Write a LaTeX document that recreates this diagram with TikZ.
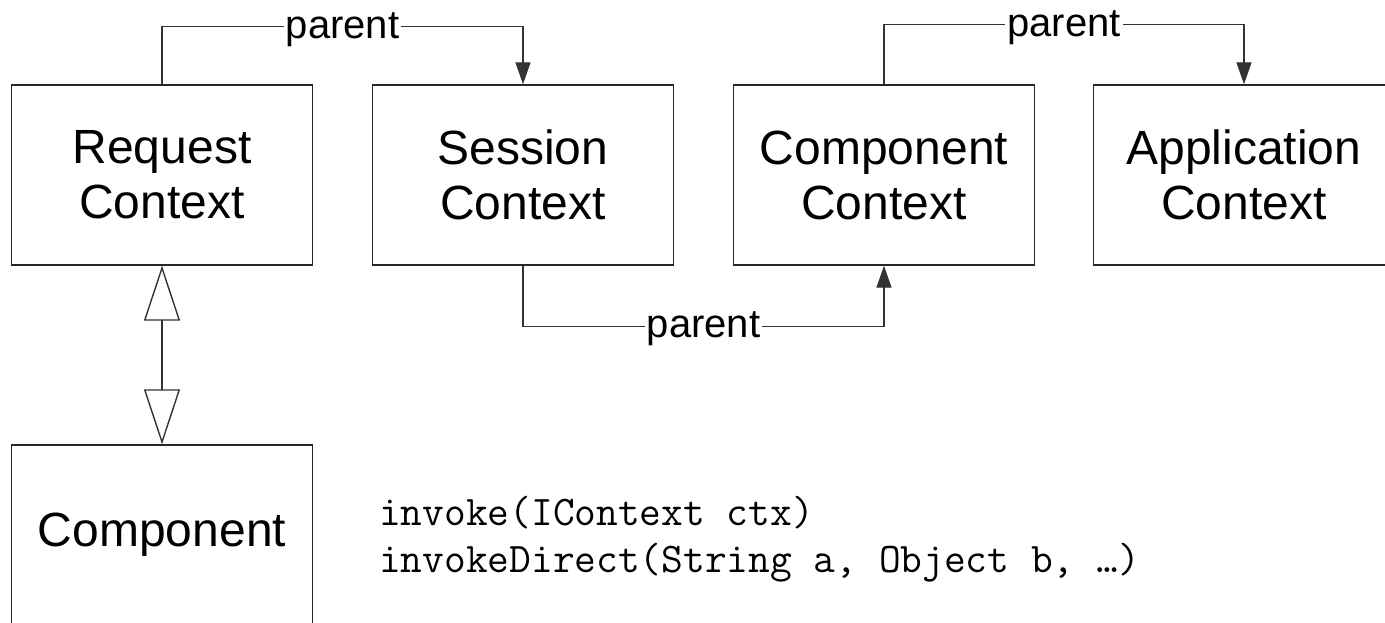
\documentclass[tikz,border=0pt]{standalone}
\usepackage{fontspec}
\setmainfont{Liberation Sans}
\usetikzlibrary{arrows.meta}
\begin{document}
\begin{tikzpicture}[x=1pt,y=-1pt,
  ctxbox/.style={draw=black!85, line width=1.4pt, minimum width=301pt, minimum height=180pt, inner sep=0pt, align=center, font=\fontsize{48}{55}\selectfont},
  conn/.style={draw=black!80, line width=1.4pt},
  plabel/.style={fill=white, inner xsep=2pt, inner ysep=1pt, font=\fontsize{40}{46}\selectfont, anchor=base},
  solidtip/.style={-{Triangle[length=22pt,width=15pt]}},
  hollow/.style={{Triangle[open,length=55pt,width=36pt]}-{Triangle[open,length=55pt,width=36pt]}},
  codetext/.style={anchor=base west, inner sep=0pt, font=\ttfamily\fontsize{42.2}{47}\selectfont}
]
\useasboundingbox (0,0) rectangle (1385,623);
\clip (0,0) rectangle (1385,623);
\node[ctxbox] (req) at (162,175) {Request\\Context};
\node[ctxbox] (ses) at (523,175) {Session\\Context};
\node[ctxbox] (cc)  at (884,175) {Component\\Context};
\node[ctxbox] (app) at (1244,175) {Application\\Context};
\node[ctxbox] (comp) at (162,535) {Component};

\draw[conn,solidtip] (req.north) -- ++(0,-58) -| node[pos=0.25,plabel,yshift=-12pt] {parent} (ses.north);
\draw[conn,solidtip] (cc.north) -- ++(0,-60) -| node[pos=0.25,plabel,yshift=-12pt] {parent} (app.north);
\draw[conn,solidtip] (ses.south) -- ++(0,61) -| node[pos=0.25,plabel,yshift=-11pt] {parent} (cc.south);
\draw[conn,hollow] (req.south) -- (comp.north);

\node[codetext] (code1) at (379,525) {invoke(IContext ctx)};
\node[codetext] (code2) at (379,572) {invokeDirect(String a, Object b, …)};
\end{tikzpicture}
\end{document}
